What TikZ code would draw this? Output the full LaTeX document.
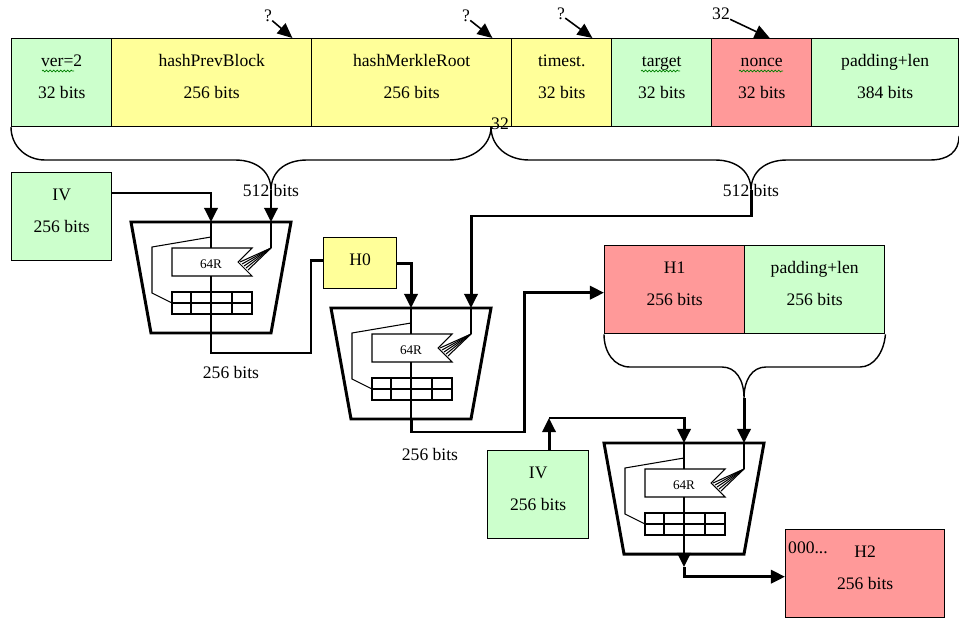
\documentclass[tikz,border=0pt]{standalone}
\usepackage{fontspec}
\setmainfont{Liberation Serif}
\usetikzlibrary{arrows.meta,calc,decorations.pathmorphing}

\definecolor{grn}{RGB}{204,255,204}
\definecolor{ylw}{RGB}{255,255,153}
\definecolor{rd}{RGB}{255,153,153}

\tikzset{
    field/.style={draw, line width=0.8pt, inner sep=0pt, anchor=north west, minimum height=1.76cm},
    txt/.style={inner sep=0pt, font=\fontsize{10}{12}\selectfont, text height=7pt, text depth=2pt},
    ptr/.style={line width=0.9pt, -{Triangle[length=8.5pt,width=7.5pt]}},
    bus/.style={line width=1.7pt, -{Triangle[length=8pt,width=7.5pt]}},
    busline/.style={line width=1.7pt},
    brace/.style={line width=0.8pt},
    fine/.style={line width=0.6pt},
    squiggle/.style={draw=green!50!black, line width=0.4pt, decorate,
        decoration={snake, amplitude=0.5pt, segment length=2pt}},
}

\begin{document}
\begin{tikzpicture}[x=0.02cm, y=-0.02cm]
    \useasboundingbox (0,0) rectangle (959,618);

    % Header fields
    \foreach \nm/\x/\w/\col/\ta/\tb in {ver/11/100/grn/ver=2/32 bits,
        prev/111/200/ylw/hashPrevBlock/256 bits,
        merkle/311/200/ylw/hashMerkleRoot/256 bits,
        time/511/100/ylw/timest./32 bits,
        target/611/100/grn/target/32 bits,
        nonce/711/100/rd/nonce/32 bits,
        pad/811/147/grn/padding+len/384 bits} {
        \node[field, fill=\col, minimum width=\w*0.02cm] (\nm) at (\x,38) {};
        \node[txt] (\nm-a) at ($(\nm.north)+(0,24)$) {\ta};
        \node[txt] (\nm-b) at ($(\nm.north)+(0,56)$) {\tb};
    }
    \draw[squiggle] (42,71) -- (74,71);
    \draw[squiggle] (641,71) -- (680,71);
    \draw[squiggle] (739,71) -- (783,71);

    % Other blocks
    \foreach \nm/\x/\y/\w/\col/\ta/\tb in {iv1/11/172/100/grn/IV/256 bits,
        h1/604/245/140/rd/H1/256 bits,
        pad2/744/245/140/grn/padding+len/256 bits,
        iv2/487/450/101/grn/IV/256 bits,
        h2/785/529/159/rd/H2/256 bits} {
        \node[field, fill=\col, minimum width=\w*0.02cm] (\nm) at (\x,\y) {};
        \node[txt] (\nm-a) at ($(\nm.north)+(0,24)$) {\ta};
        \node[txt] (\nm-b) at ($(\nm.north)+(0,56)$) {\tb};
    }
    \node[field, fill=ylw, minimum width=1.46cm, minimum height=1.02cm] (h0) at (323,237) {};
    \node[txt] (h0-a) at ($(h0.north)+(0,24)$) {H0};
    \node[txt] (zeros) at (808,549) {000...};

    % Braces
    \coordinate (tip1) at (271,190);
    \coordinate (tip2) at (751,190);
    \coordinate (tip3) at (744,398);
    \draw[brace] (11,127) .. controls (11,146) and (26,160) .. (45,160) -- (235,160)
        .. controls (257,160) and (271,172) .. (tip1)
        .. controls (271,172) and (285,160) .. (307,160) -- (449,160)
        .. controls (472,160) and (491,146) .. (491,127);
    \draw[brace] (491,127) .. controls (491,146) and (507,160) .. (529,160) -- (715,160)
        .. controls (737,160) and (751,172) .. (tip2)
        .. controls (751,172) and (765,160) .. (787,160) -- (930,160)
        .. controls (948,160) and (959,152) .. (959,136);
    \draw[brace] (h1.south west) .. controls (604,352) and (614,367) .. (630,367) -- (722,367)
        .. controls (736,367) and (744,380) .. (tip3)
        .. controls (744,380) and (752,367) .. (766,367) -- (860,367)
        .. controls (874,367) and (884,352) .. (pad2.south east);

    % Compression units
    \foreach \n/\dx/\dy in {a/0/0, b/200/86, c/473/221} {
        \begin{scope}[shift={(\dx,\dy)}]
            \draw[line width=1.7pt] (131,222) -- (291,222) -- (271,333) -- (151,333) -- cycle;
            \draw[fine] (172,248) -- (252,248) -- (238,262) -- (252,276) -- (172,276) -- cycle;
            \node[inner sep=0pt, font=\fontsize{7.5}{9}\selectfont] (\n-rnd) at (211,264) {64R};
            \draw[fine] (172,292) rectangle (252,314);
            \draw[fine] (172,303) -- (252,303);
            \foreach \cx in {191,211,232} \draw[fine] (\cx,292) -- (\cx,314);
            \draw[fine] (211,222) -- (211,248) (211,276) -- (211,292) (211,314) -- (211,333);
            \draw[fine] (211,237) -- (152,247) -- (152,293) -- (172,303);
            \draw[fine] (271,222) -- (271,248);
            \foreach \k in {0,...,4} \draw[fine] (271,248) -- (240+2*\k,262+2*\k);
            \coordinate (\n-l) at (211,222);
            \coordinate (\n-r) at (271,222);
            \coordinate (\n-o) at (211,333);
        \end{scope}
    }

    % Connections
    \draw[bus] ($(iv1.north east)+(0,21)$) -| (a-l);
    \draw[bus] (tip1) -- (a-r);
    \draw[busline] (a-o) |- (311,353) |- ($(h0.west)+(0,-3)$);
    \draw[bus] (h0.east) -| (b-l);
    \draw[bus] (tip2) |- (471,216) -- (b-r);
    \draw[bus] (b-o) |- (524,432) |- ($(h1.west)+(0,3)$);
    \draw[bus] (tip3) -- (c-r);
    \coordinate (jc) at (549,418);
    \draw[bus] (iv2.north -| jc) -- (jc);
    \draw[bus] (jc) -| (c-l);
    \coordinate (jd) at (684,567);
    \draw[bus] (c-o) -- (jd);
    \draw[bus] (jd) |- ($(h2.west)+(0,3)$);

    % Labels
    \node[txt] (bits1) at (271,192) {512 bits};
    \node[txt] (bits2) at (751,192) {512 bits};
    \node[txt] (out1) at (231,374) {256 bits};
    \node[txt] (out2) at (430,456) {256 bits};
    \node[txt] (rest) at (500,125) {32};

    % Unknown inputs
    \node[txt] (q1) at (268,17) {?};
    \node[txt] (q2) at (466,17) {?};
    \node[txt] (q3) at (561,15) {?};
    \node[txt] (n32) at (721,15) {32};
    \draw[ptr] (q1) -- ($(prev.north east)+(-20,0)$);
    \draw[ptr] (q2) -- ($(merkle.north east)+(-20,0)$);
    \draw[ptr] (q3) -- ($(time.north east)+(-20,0)$);
    \draw[ptr] (n32) -- ($(nonce.north)+(8,0)$);
\end{tikzpicture}
\end{document}
